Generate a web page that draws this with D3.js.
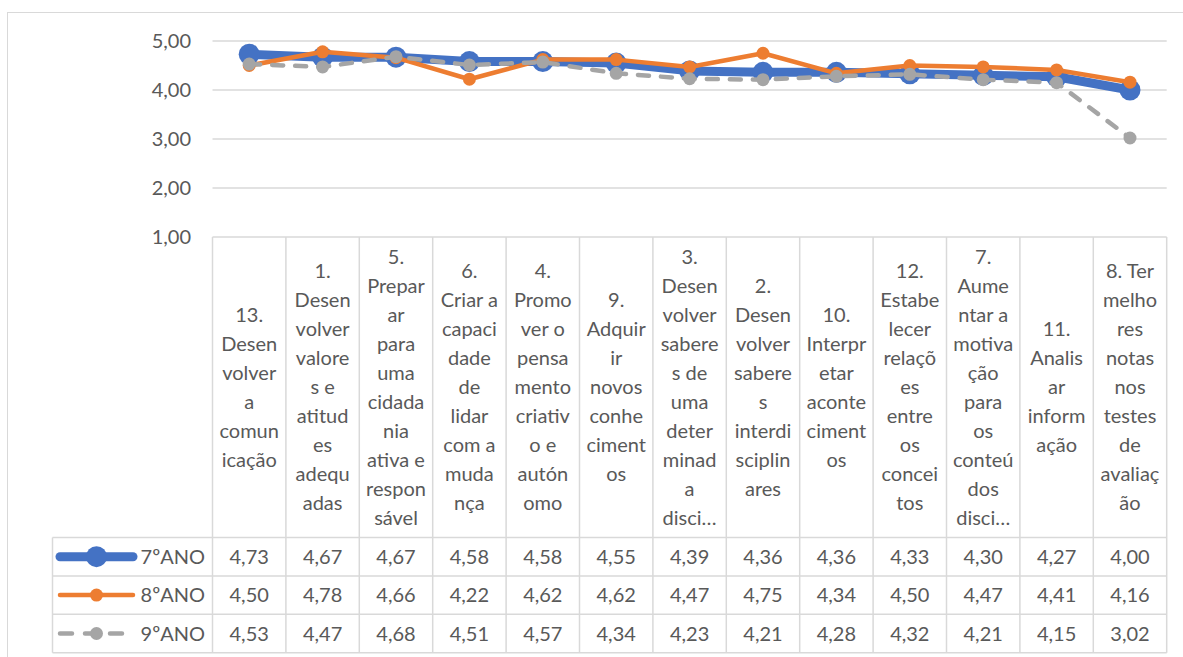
<!DOCTYPE html>
<html>
<head>
<meta charset="utf-8">
<script src="https://cdn.jsdelivr.net/npm/d3@7"></script>
<style>
  html, body { margin: 0; padding: 0; background: #fff; }
  svg { display: block; }
  text { font-family: "Lato", "Open Sans", sans-serif; fill: #595959; }
</style>
</head>
<body>
<svg id="chart" width="1183" height="657"></svg>
<script>
// ---- data ----
const categoryLines = [
  ["13.","Desen","volver","a","comun","icação"],
  ["1.","Desen","volver","valore","s e","atitud","es","adequ","adas"],
  ["5.","Prepar","ar","para","uma","cidada","nia","ativa e","respon","sável"],
  ["6.","Criar a","capaci","dade","de","lidar","com a","muda","nça"],
  ["4.","Promo","ver o","pensa","mento","criativ","o e","autón","omo"],
  ["9.","Adquir","ir","novos","conhe","ciment","os"],
  ["3.","Desen","volver","sabere","s de","uma","deter","minad","a","disci…"],
  ["2.","Desen","volver","sabere","s","interdi","sciplin","ares"],
  ["10.","Interpr","etar","aconte","ciment","os"],
  ["12.","Estabe","lecer","relaçõ","es","entre","os","concei","tos"],
  ["7.","Aume","ntar a","motiva","ção","para","os","conteú","dos","disci…"],
  ["11.","Analis","ar","inform","ação"],
  ["8. Ter","melho","res","notas","nos","testes","de","avaliaç","ão"]
];
const seriesNames = ["7ºANO", "8ºANO", "9ºANO"];
const ano7 = [4.73,4.67,4.67,4.58,4.58,4.55,4.39,4.36,4.36,4.33,4.30,4.27,4.00];
const ano8 = [4.50,4.78,4.66,4.22,4.62,4.62,4.47,4.75,4.34,4.50,4.47,4.41,4.16];
const ano9 = [4.53,4.47,4.68,4.51,4.57,4.34,4.23,4.21,4.28,4.32,4.21,4.15,3.02];
const yTicks = [1, 2, 3, 4, 5];

// ---- styles ----
const seriesStyle = [
  { color: "#4472C4", width: 9, r: 10.5, dash: null },
  { color: "#ED7D31", width: 4.5, r: 6.5, dash: null },
  { color: "#A5A5A5", width: 4.5, r: 6.5, dash: "11,12" }
];
const seriesData = [ano7, ano8, ano9];

const svg = d3.select("#chart");
const gridColor = "#D9D9D9";
const fontSize = 20;

const plotLeft = 212.5, plotRight = 1166.7, plotTop = 41, plotBottom = 237;
const tableLeft = 52.5;
const headerBottom = 537.5, rowH = 38.4;

const x = d3.scaleBand().domain(d3.range(categoryLines.length)).range([plotLeft, plotRight]);
const y = d3.scaleLinear().domain([1, 5]).range([plotBottom, plotTop]);
const fmt = v => d3.format(".2f")(v).replace(".", ",");

// outer frame
svg.append("rect").attr("x", 7.5).attr("y", 12.5).attr("width", 1200).attr("height", 700)
  .attr("fill", "none").attr("stroke", gridColor).attr("stroke-width", 1);

// gridlines
svg.append("g").selectAll("line").data(yTicks.filter(t => t > 1)).join("line")
  .attr("x1", plotLeft).attr("x2", plotRight)
  .attr("y1", d => y(d)).attr("y2", d => y(d))
  .attr("stroke", gridColor).attr("stroke-width", 1.3);

// y axis labels
const yAxis = d3.axisLeft(y).tickValues(yTicks).tickFormat(fmt).tickSize(0).tickPadding(0);
const yg = svg.append("g").attr("transform", `translate(191,0)`).call(yAxis);
yg.select(".domain").remove();
yg.selectAll("text").attr("font-size", fontSize).attr("fill", "#595959")
  .attr("font-family", "Lato, 'Open Sans', sans-serif");

// table grid
const tg = svg.append("g").attr("stroke", gridColor).attr("stroke-width", 1.5).attr("fill", "none");
tg.append("line").attr("x1", plotLeft).attr("x2", plotRight).attr("y1", plotBottom).attr("y2", plotBottom);
const rowYs = [0, 1, 2, 3].map(i => headerBottom + i * rowH);
rowYs.forEach(ry => tg.append("line").attr("x1", tableLeft).attr("x2", plotRight).attr("y1", ry).attr("y2", ry));
const colEdges = d3.range(categoryLines.length + 1).map(i => plotLeft + i * x.step());
colEdges.forEach(cx => tg.append("line").attr("x1", cx).attr("x2", cx).attr("y1", plotBottom).attr("y2", rowYs[3]));
tg.append("line").attr("x1", tableLeft).attr("x2", tableLeft).attr("y1", rowYs[0]).attr("y2", rowYs[3]);

// category header labels
const lineH = 29;
const headerMid = (plotBottom + headerBottom) / 2;
categoryLines.forEach((lines, i) => {
  const cx = x(i) + x.bandwidth() / 2;
  const t = svg.append("text").attr("text-anchor", "middle").attr("font-size", fontSize);
  const y0 = headerMid - (lines.length - 1) * lineH / 2;
  lines.forEach((ln, k) => {
    t.append("tspan").attr("x", cx).attr("y", y0 + k * lineH).attr("dy", "0.35em").text(ln);
  });
});

// data table values + legend keys
seriesData.forEach((vals, s) => {
  const ry = rowYs[s] + rowH / 2;
  svg.append("g").selectAll("text").data(vals).join("text")
    .attr("x", (d, i) => x(i) + x.bandwidth() / 2)
    .attr("y", ry).attr("dy", "0.35em")
    .attr("text-anchor", "middle").attr("font-size", fontSize)
    .text(d => fmt(d));
  const st = seriesStyle[s];
  const lg = svg.append("g");
  lg.append("line").attr("x1", 60).attr("x2", 133).attr("y1", ry).attr("y2", ry)
    .attr("stroke", st.color).attr("stroke-width", st.width).attr("stroke-linecap", "round")
    .attr("stroke-dasharray", st.dash ? "12,13" : null);
  lg.append("circle").attr("cx", 96.5).attr("cy", ry).attr("r", st.r).attr("fill", st.color);
  lg.append("text").attr("x", 205).attr("y", ry).attr("dy", "0.35em")
    .attr("text-anchor", "end").attr("font-size", fontSize).text(seriesNames[s]);
});

// series lines
const line = d3.line().x((d, i) => x(i) + x.bandwidth() / 2).y(d => y(d));
seriesData.forEach((vals, s) => {
  const st = seriesStyle[s];
  const g = svg.append("g");
  g.append("path").datum(vals).attr("d", line)
    .attr("fill", "none").attr("stroke", st.color).attr("stroke-width", st.width)
    .attr("stroke-linejoin", "round").attr("stroke-linecap", "round")
    .attr("stroke-dasharray", st.dash);
  g.selectAll("circle").data(vals).join("circle")
    .attr("cx", (d, i) => x(i) + x.bandwidth() / 2).attr("cy", d => y(d))
    .attr("r", st.r).attr("fill", st.color);
});
</script>
</body>
</html>
